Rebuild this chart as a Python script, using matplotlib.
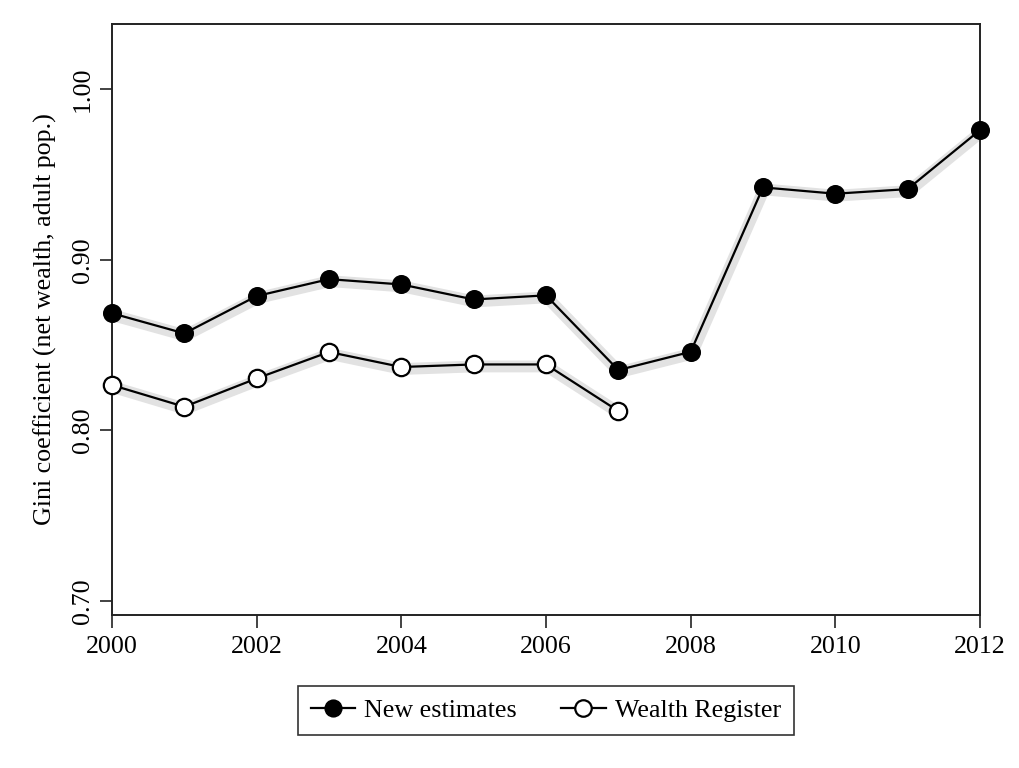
import matplotlib
matplotlib.use("Agg")
import matplotlib.pyplot as plt
import matplotlib.transforms as mtransforms

years_new = [2000, 2001, 2002, 2003, 2004, 2005, 2006, 2007, 2008, 2009, 2010, 2011, 2012]
gini_new = [0.8687, 0.8569, 0.8788, 0.8887, 0.8856, 0.8768, 0.8792, 0.8354, 0.8461,
            0.9425, 0.9388, 0.9415, 0.9761]
years_reg = [2000, 2001, 2002, 2003, 2004, 2005, 2006, 2007]
gini_reg = [0.8266, 0.8139, 0.8305, 0.8460, 0.8372, 0.8387, 0.8387, 0.8114]
xticks = [2000, 2002, 2004, 2006, 2008, 2010, 2012]
yticks = [0.70, 0.80, 0.90, 1.00]

plt.rcParams['font.family'] = ['Liberation Serif', 'DejaVu Serif']

fig = plt.figure(figsize=(10.19, 7.68), dpi=100)
ax = fig.add_axes([112/1019, 1-615/768, (980-112)/1019, (615-24)/768])

shift = mtransforms.offset_copy(ax.transData, fig=fig, x=1, y=-2, units='dots')
for xs, ys in [(years_new, gini_new), (years_reg, gini_reg)]:
    ax.plot(xs, ys, color='#e2e2e2', lw=8.5, solid_capstyle='butt', transform=shift,
            zorder=1, clip_on=False)

ax.plot(years_new, gini_new, color='black', lw=1.6, marker='o', ms=12.5,
        mfc='black', mec='black', mew=1.2, label='New estimates', zorder=3, clip_on=False)
ax.plot(years_reg, gini_reg, color='black', lw=1.6, marker='o', ms=12.5,
        mfc='white', mec='black', mew=1.6, label='Wealth Register', zorder=3, clip_on=False)

ax.set_xlim(2000, 2012)
ax.set_ylim(0.6918, 1.0383)
ax.set_xticks(xticks)
ax.set_xticklabels([str(x) for x in xticks])
ax.set_yticks(yticks)
ax.set_yticklabels([f"{y:.2f}" for y in yticks], rotation=90, va='center')
ax.tick_params(axis='both', labelsize=18.7, length=9, width=1.2, direction='out', color='#222222')
ax.tick_params(axis='y', pad=4)
ax.tick_params(axis='x', pad=6)
for s in ax.spines.values():
    s.set_linewidth(1.4)
    s.set_color('#222222')

ax.set_ylabel('Gini coefficient (net wealth, adult pop.)', fontsize=18.7, labelpad=11)

leg = ax.legend(loc='upper center', bbox_to_anchor=(0.5, -0.120), ncol=2, fontsize=18.7,
                frameon=True, fancybox=False, edgecolor='black', handlelength=1.7,
                columnspacing=1.7, borderpad=0.5, handletextpad=0.35, borderaxespad=0,
                markerscale=0.95)
leg.get_frame().set_linewidth(1.2)

fig.savefig('out.png', dpi=100, facecolor='white')
